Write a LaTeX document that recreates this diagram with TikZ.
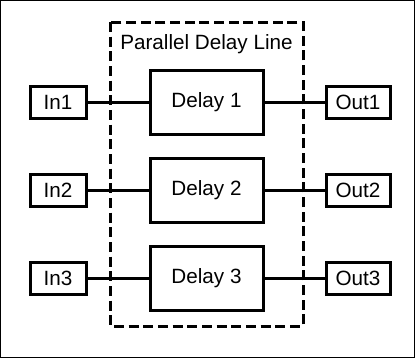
\documentclass[tikz,border=0pt]{standalone}
\usepackage{fontspec}
\setmainfont{Liberation Sans}
\begin{document}
\begin{tikzpicture}[x=0.75pt,y=-0.75pt,
  lbl/.style={font=\fontsize{15.5}{18}\selectfont},
  blk/.style={draw,line width=2.25pt,rectangle,inner sep=0pt,lbl},
  wire/.style={line width=2.25pt}]
\useasboundingbox (0,0) rectangle (415,358);
\draw[line width=1.1pt] (0.75,0.75) rectangle (414.25,357.25);
\draw[line width=2.25pt,dash pattern=on 7.5pt off 3.5pt] (110,22) rectangle (303,326);
\node[lbl] (title) at (206.5,44) {Parallel Delay Line};
\foreach \i/\y in {1/102,2/190,3/278} {
  \node[blk,minimum width=113*0.75pt,minimum height=64*0.75pt] (d\i) at (206.5,\y) {Delay \i};
  \node[blk,minimum width=56*0.75pt,minimum height=32*0.75pt] (in\i) at (58,\y) {In\i};
  \node[blk,minimum width=64*0.75pt,minimum height=32*0.75pt] (out\i) at (358,\y) {Out\i};
  \draw[wire] (in\i) -- (d\i);
  \draw[wire] (d\i) -- (out\i);
}
\end{tikzpicture}
\end{document}
